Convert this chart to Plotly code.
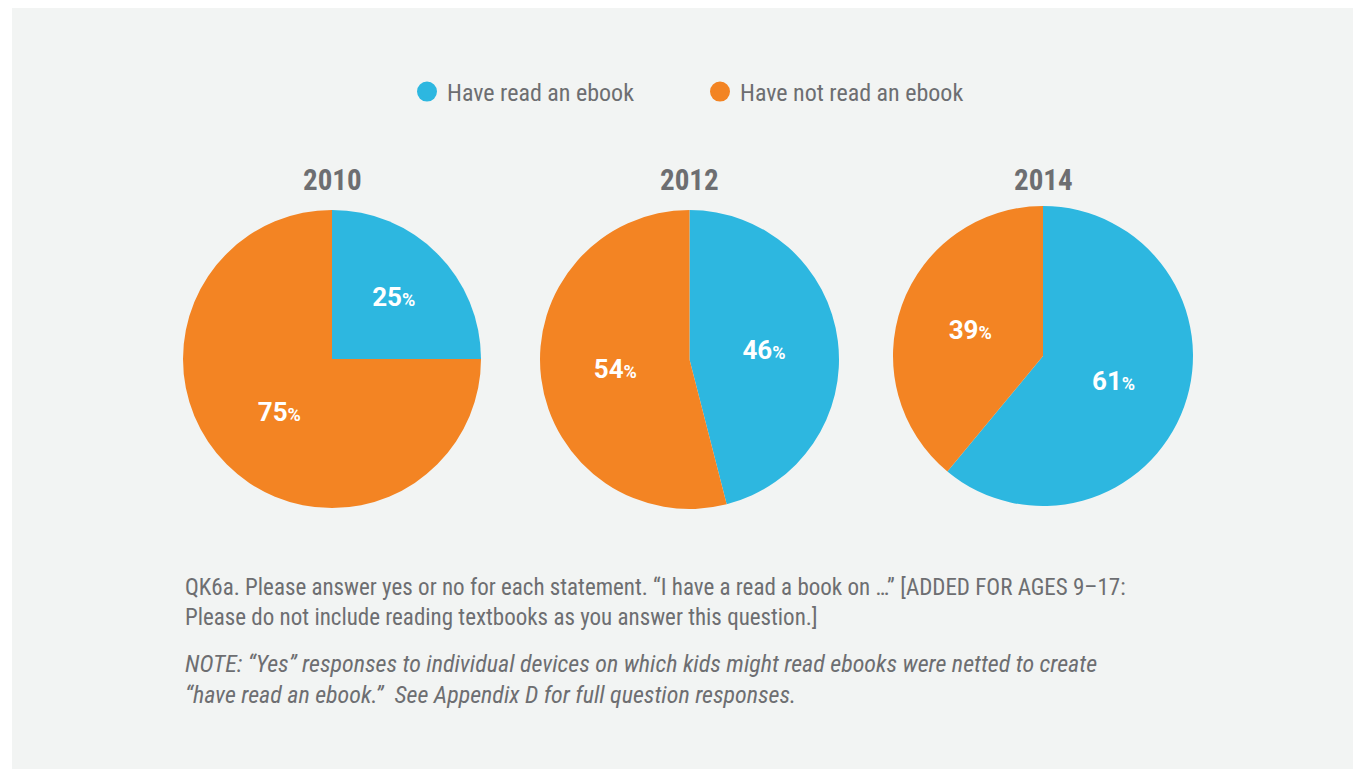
import plotly.graph_objects as go

years = ["2010", "2012", "2014"]
categories = ["Have read an ebook", "Have not read an ebook"]
read_pct = [25, 46, 61]
not_read_pct = [75, 54, 39]

colors = ["#2db7e0", "#f38423"]
gray = "#6d6e71"
W, H = 1353, 769
FONT = "Liberation Sans Narrow, Roboto Condensed, Roboto, sans-serif"
LABEL_FONT = "Roboto, sans-serif"

# pie boxes in pixels (left, right, top, bottom)
boxes = [(183, 481, 210, 508), (540, 839, 210, 509), (893, 1193, 206, 506)]

fig = go.Figure()
for i, yr in enumerate(years):
    l, r, t, b = boxes[i]
    fig.add_trace(go.Pie(
        labels=categories,
        values=[read_pct[i], not_read_pct[i]],
        sort=False,
        direction="clockwise",
        rotation=0,
        marker=dict(colors=colors, line=dict(width=0)),
        textinfo="text",
        texttemplate="<b>%{value}</b><b><span style='font-size:18px'>%</span></b>",
        textposition="inside",
        insidetextorientation="horizontal",
        insidetextfont=dict(color="white", size=26, family=LABEL_FONT),
        domain=dict(x=[l / W, r / W], y=[1 - b / H, 1 - t / H]),
        showlegend=False,
        hoverinfo="label+percent",
        name=yr,
    ))

# legend entries (circle markers)
for c, col in zip(categories, colors):
    fig.add_trace(go.Scatter(
        x=[None], y=[None], mode="markers", name=c,
        marker=dict(symbol="circle", size=16, color=col, line=dict(color=col, width=4)),
        showlegend=True,
    ))

annotations = []
for i, yr in enumerate(years):
    l, r, t, b = boxes[i]
    annotations.append(dict(
        text="<b>" + yr + "</b>", x=(l + r) / 2 / W, y=1 - 180 / H,
        xref="paper", yref="paper", xanchor="center", yanchor="middle",
        showarrow=False, font=dict(size=29, color=gray, family=FONT),
    ))

annotations.append(dict(
    text=("QK6a. Please answer yes or no for each statement. \u201cI have a read a book on \u2026\u201d [ADDED FOR AGES 9\u201317:"
          "<br>Please do not include reading textbooks as you answer this question.]"),
    x=183 / W, y=1 - 572 / H, xref="paper", yref="paper", xanchor="left", yanchor="top",
    align="left", showarrow=False, font=dict(size=23, color=gray, family=FONT),
))
annotations.append(dict(
    text=("<i>NOTE: \u201cYes\u201d responses to individual devices on which kids might read ebooks were netted to create"
          "<br>\u201chave read an ebook.\u201d  See Appendix D for full question responses.</i>"),
    x=183 / W, y=1 - 648 / H, xref="paper", yref="paper", xanchor="left", yanchor="top",
    align="left", showarrow=False, font=dict(size=24, color=gray, family=FONT),
))

fig.update_layout(
    width=W, height=H,
    margin=dict(l=0, r=0, t=0, b=0),
    paper_bgcolor="white",
    plot_bgcolor="rgba(0,0,0,0)",
    xaxis=dict(visible=False),
    yaxis=dict(visible=False),
    shapes=[dict(type="rect", xref="paper", yref="paper", x0=12 / W, x1=1, y0=0, y1=1 - 8 / H,
                 fillcolor="#f2f4f3", line=dict(width=0), layer="below")],
    legend=dict(orientation="h", x=700 / W, xanchor="center", y=1 - 92 / H, yanchor="middle",
                font=dict(size=24, color=gray, family=FONT), bgcolor="rgba(0,0,0,0)",
                entrywidth=248, itemsizing="trace"),
    annotations=annotations,
)

fig.write_html("out.html", config={"displayModeBar": False},
               post_script="document.body.style.margin='0';document.body.style.overflow='hidden';")
